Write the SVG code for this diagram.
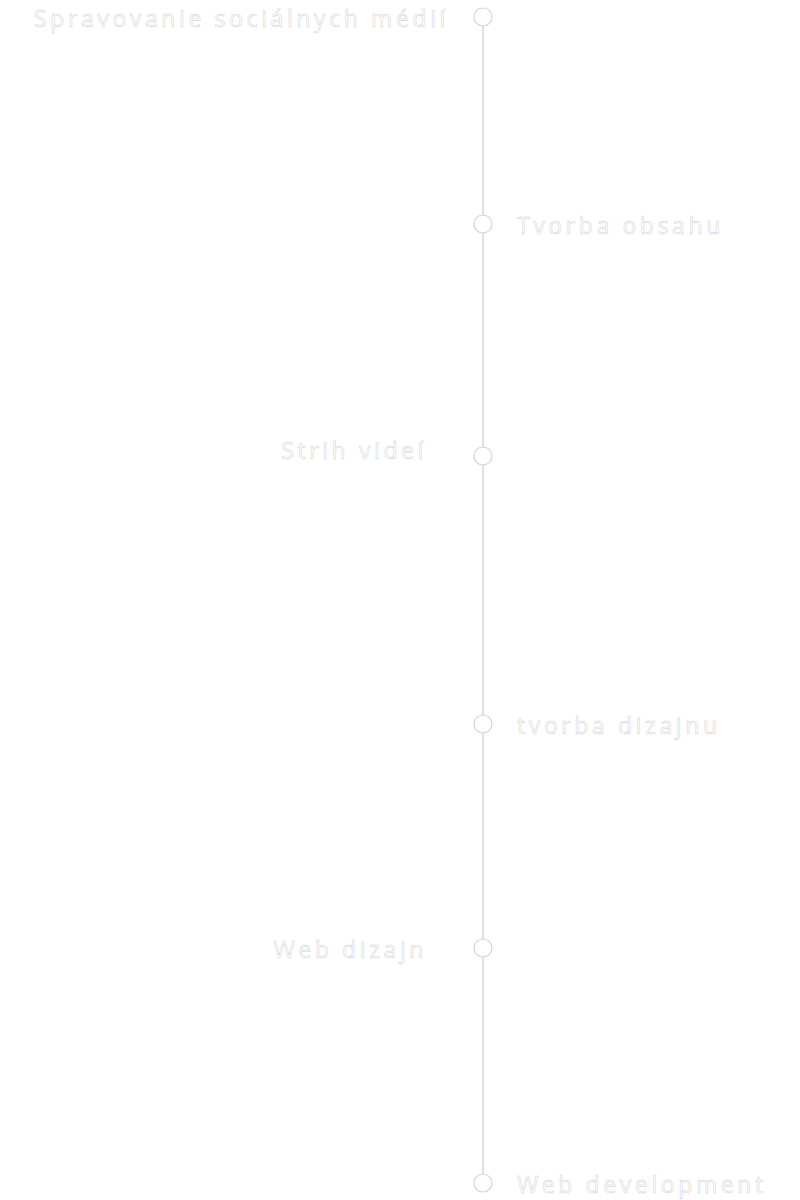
<svg xmlns="http://www.w3.org/2000/svg" width="800" height="1200" viewBox="0 0 800 1200">
<style>
.lbl{font-family:"Open Sans","Noto Sans",sans-serif;font-size:23px;letter-spacing:3.6px;fill:#fff;stroke:#cfcfcf;stroke-width:0.5px}
.l{text-anchor:end}
.dot{fill:#fff;stroke:#d4d4d4;stroke-width:1.2px}
</style>
<rect width="800" height="1200" fill="#fff"/>
<g id="connectors"><line x1="483" y1="17" x2="483" y2="1183" stroke="#d4d4d4" stroke-width="1.5"/></g>
<g id="n1"><circle class="dot" cx="483" cy="17" r="9"/><text class="lbl l" x="449" y="27">Spravovanie sociálnych médií</text></g>
<g id="n2"><circle class="dot" cx="483" cy="224" r="9"/><text class="lbl" x="517" y="234">Tvorba obsahu</text></g>
<g id="n3"><circle class="dot" cx="483" cy="456" r="9"/><text class="lbl l" x="427" y="459">Strih videí</text></g>
<g id="n4"><circle class="dot" cx="483" cy="724" r="9"/><text class="lbl" x="517" y="734">tvorba dizajnu</text></g>
<g id="n5"><circle class="dot" cx="483" cy="948" r="9"/><text class="lbl l" x="427" y="958">Web dizajn</text></g>
<g id="n6"><circle class="dot" cx="483" cy="1183" r="9"/><text class="lbl" x="517" y="1193">Web development</text></g>
</svg>
